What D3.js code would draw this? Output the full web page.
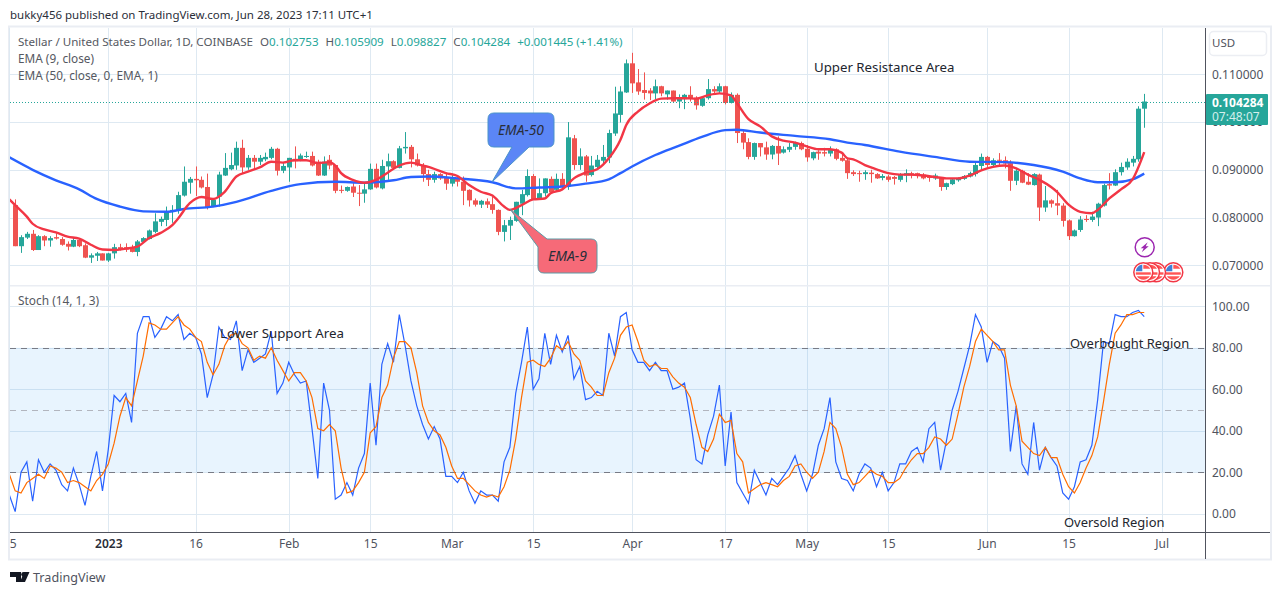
<!DOCTYPE html>
<html>
  <head>
    <meta charset="utf-8">
    <title>XLMUSD</title>
    <script src="https://cdn.jsdelivr.net/npm/d3@7/dist/d3.min.js" charset="utf-8"></script>
    <style>
      html, body {margin: 0; padding: 0; background: #fff; overflow: hidden;}
      text {font-family: "Noto Sans", sans-serif;}
    </style>
  </head>
  <body>
    <script>
    //candles, one per day from 2022-12-16
    const firstCandle='2022-12-16';
    const highs=[
      0.0838,0.0763,0.0770,0.0774,0.0763,0.0763,0.0761,0.0767,0.0759,0.0750,
      0.0759,0.0757,0.0746,0.0725,0.0728,0.0725,0.0726,0.0745,0.0745,0.0746,
      0.0743,0.0753,0.0759,0.0775,0.0809,0.0802,0.0823,0.0826,0.0854,0.0907,
      0.0885,0.0907,0.0886,0.0892,0.0838,0.0896,0.0935,0.0936,0.0959,0.0963,
      0.0931,0.0931,0.0931,0.0936,0.0948,0.0946,0.0914,0.0925,0.0949,0.0934,
      0.0938,0.0938,0.0921,0.0928,0.0931,0.0910,0.0867,0.0865,0.0872,0.0868,
      0.0874,0.0913,0.0913,0.0921,0.0934,0.0920,0.0950,0.0979,0.0952,0.0934,
      0.0914,0.0900,0.0896,0.0893,0.0893,0.0892,0.0886,0.0886,0.0859,0.0840,
      0.0837,0.0840,0.0844,0.0817,0.0795,0.0802,0.0833,0.0858,0.0901,0.0891,
      0.0882,0.0882,0.0886,0.0892,0.0893,0.1000,0.0973,0.0945,0.0931,0.0929,
      0.0931,0.0952,0.0984,0.1074,0.1075,0.1131,0.1145,0.1111,0.1104,0.1071,
      0.1089,0.1076,0.1066,0.1066,0.1058,0.1059,0.1075,0.1054,0.1054,0.1090,
      0.1075,0.1081,0.1076,0.1062,0.1060,0.0984,0.0966,0.0957,0.0956,0.0959,
      0.0952,0.0970,0.0949,0.0956,0.0959,0.0959,0.0952,0.0938,0.0941,0.0946,
      0.0949,0.0945,0.0935,0.0924,0.0899,0.0898,0.0899,0.0900,0.0893,0.0891,
      0.0889,0.0887,0.0893,0.0901,0.0896,0.0894,0.0893,0.0889,0.0892,0.0884,
      0.0873,0.0882,0.0884,0.0889,0.0896,0.0915,0.0934,0.0929,0.0924,0.0935,
      0.0928,0.0920,0.0904,0.0900,0.0893,0.0893,0.0892,0.0866,0.0838,0.0858,
      0.0830,0.0796,0.0775,0.0803,0.0805,0.0812,0.0831,0.0871,0.0893,0.0901,
      0.0915,0.0924,0.0929,0.1033,0.1059
    ];
    const opens=[
      0.0826,0.0740,0.0758,0.0766,0.0732,0.0761,0.0752,0.0759,0.0755,0.0745,
      0.0739,0.0753,0.0742,0.0716,0.0720,0.0725,0.0710,0.0725,0.0738,0.0738,
      0.0737,0.0728,0.0749,0.0755,0.0770,0.0791,0.0795,0.0812,0.0815,0.0846,
      0.0873,0.0881,0.0879,0.0864,0.0823,0.0844,0.0888,0.0901,0.0909,0.0946,
      0.0905,0.0925,0.0917,0.0922,0.0925,0.0944,0.0898,0.0905,0.0923,0.0920,
      0.0928,0.0929,0.0917,0.0888,0.0921,0.0910,0.0858,0.0856,0.0865,0.0852,
      0.0850,0.0859,0.0902,0.0861,0.0907,0.0918,0.0904,0.0945,0.0948,0.0922,
      0.0909,0.0891,0.0879,0.0891,0.0883,0.0871,0.0881,0.0875,0.0858,0.0836,
      0.0827,0.0834,0.0828,0.0816,0.0770,0.0783,0.0793,0.0829,0.0847,0.0887,
      0.0840,0.0851,0.0881,0.0858,0.0881,0.0865,0.0966,0.0910,0.0928,0.0889,
      0.0906,0.0919,0.0926,0.0976,0.1015,0.1062,0.1123,0.1083,0.1067,0.1066,
      0.1060,0.1075,0.1058,0.1066,0.1043,0.1048,0.1057,0.1051,0.1034,0.1050,
      0.1069,0.1064,0.1075,0.1040,0.1057,0.0977,0.0958,0.0927,0.0956,0.0947,
      0.0932,0.0950,0.0936,0.0942,0.0948,0.0956,0.0944,0.0924,0.0938,0.0937,
      0.0934,0.0943,0.0925,0.0920,0.0895,0.0893,0.0891,0.0894,0.0891,0.0883,
      0.0886,0.0885,0.0879,0.0888,0.0893,0.0893,0.0890,0.0885,0.0882,0.0882,
      0.0864,0.0870,0.0878,0.0881,0.0886,0.0891,0.0908,0.0927,0.0910,0.0921,
      0.0920,0.0914,0.0877,0.0898,0.0875,0.0868,0.0890,0.0821,0.0836,0.0830,
      0.0825,0.0794,0.0761,0.0774,0.0797,0.0795,0.0800,0.0825,0.0870,0.0867,
      0.0895,0.0905,0.0915,0.0922,0.1028
    ];
    const closes=[
      0.0740,0.0759,0.0766,0.0732,0.0761,0.0752,0.0757,0.0756,0.0743,0.0739,
      0.0753,0.0740,0.0716,0.0721,0.0725,0.0710,0.0725,0.0738,0.0732,0.0733,
      0.0728,0.0750,0.0757,0.0773,0.0792,0.0797,0.0813,0.0816,0.0847,0.0875,
      0.0881,0.0878,0.0863,0.0822,0.0837,0.0890,0.0904,0.0910,0.0946,0.0905,
      0.0925,0.0917,0.0925,0.0927,0.0944,0.0898,0.0908,0.0925,0.0918,0.0930,
      0.0929,0.0909,0.0888,0.0917,0.0909,0.0856,0.0857,0.0864,0.0852,0.0851,
      0.0859,0.0902,0.0863,0.0908,0.0918,0.0904,0.0945,0.0948,0.0922,0.0909,
      0.0891,0.0879,0.0891,0.0882,0.0871,0.0882,0.0875,0.0856,0.0836,0.0827,
      0.0835,0.0827,0.0816,0.0770,0.0784,0.0795,0.0833,0.0849,0.0887,0.0838,
      0.0851,0.0882,0.0853,0.0881,0.0865,0.0968,0.0910,0.0928,0.0888,0.0909,
      0.0921,0.0927,0.0977,0.1018,0.1064,0.1123,0.1081,0.1064,0.1061,0.1060,
      0.1075,0.1060,0.1066,0.1043,0.1050,0.1057,0.1049,0.1035,0.1050,0.1069,
      0.1064,0.1075,0.1040,0.1057,0.0977,0.0957,0.0927,0.0956,0.0947,0.0932,
      0.0950,0.0934,0.0943,0.0948,0.0956,0.0943,0.0926,0.0937,0.0934,0.0934,
      0.0942,0.0923,0.0919,0.0893,0.0891,0.0892,0.0895,0.0891,0.0882,0.0887,
      0.0879,0.0881,0.0889,0.0893,0.0888,0.0887,0.0882,0.0884,0.0888,0.0864,
      0.0872,0.0880,0.0883,0.0887,0.0893,0.0910,0.0927,0.0910,0.0920,0.0919,
      0.0913,0.0877,0.0898,0.0873,0.0869,0.0891,0.0821,0.0836,0.0829,0.0825,
      0.0793,0.0761,0.0773,0.0796,0.0795,0.0802,0.0829,0.0868,0.0867,0.0895,
      0.0906,0.0917,0.0923,0.1028,0.1043
    ];
    const lows=[
      0.0740,0.0726,0.0755,0.0730,0.0732,0.0740,0.0739,0.0754,0.0741,0.0731,
      0.0738,0.0738,0.0715,0.0705,0.0709,0.0710,0.0707,0.0714,0.0731,0.0728,
      0.0727,0.0719,0.0748,0.0754,0.0767,0.0782,0.0782,0.0789,0.0808,0.0844,
      0.0850,0.0845,0.0861,0.0817,0.0822,0.0823,0.0887,0.0899,0.0900,0.0892,
      0.0900,0.0903,0.0910,0.0918,0.0922,0.0888,0.0893,0.0875,0.0903,0.0918,
      0.0925,0.0907,0.0887,0.0887,0.0901,0.0851,0.0851,0.0854,0.0843,0.0824,
      0.0831,0.0858,0.0861,0.0859,0.0879,0.0903,0.0903,0.0934,0.0905,0.0907,
      0.0875,0.0866,0.0873,0.0879,0.0858,0.0865,0.0865,0.0826,0.0823,0.0823,
      0.0820,0.0820,0.0808,0.0763,0.0750,0.0753,0.0791,0.0805,0.0844,0.0837,
      0.0837,0.0844,0.0851,0.0854,0.0858,0.0858,0.0900,0.0900,0.0875,0.0886,
      0.0903,0.0910,0.0914,0.0971,0.0999,0.1061,0.1061,0.1057,0.1047,0.1046,
      0.1048,0.1054,0.1047,0.1041,0.1029,0.1027,0.1043,0.1026,0.1032,0.1047,
      0.1057,0.1061,0.1037,0.1039,0.0956,0.0943,0.0922,0.0921,0.0928,0.0921,
      0.0922,0.0910,0.0934,0.0937,0.0942,0.0941,0.0917,0.0920,0.0921,0.0928,
      0.0928,0.0920,0.0917,0.0881,0.0887,0.0875,0.0879,0.0873,0.0881,0.0878,
      0.0875,0.0869,0.0875,0.0874,0.0882,0.0882,0.0880,0.0875,0.0879,0.0856,
      0.0858,0.0868,0.0875,0.0879,0.0884,0.0886,0.0899,0.0906,0.0907,0.0910,
      0.0903,0.0856,0.0868,0.0872,0.0868,0.0867,0.0793,0.0812,0.0821,0.0805,
      0.0781,0.0753,0.0760,0.0770,0.0791,0.0791,0.0782,0.0823,0.0859,0.0866,
      0.0888,0.0900,0.0907,0.0917,0.0988
    ];

    //EMA readings, day = days after firstCandle
    const ema9Days=[-1,0,2,3,5,7,9,11,13,15,17,19,21,23,25,27,28,30,32,34,36,38,40,42,44,46,48,50,52,54,55,56,58,60,62,64,66,68,70,71,74,76,78,80,82,84,85,87,89,91,92,94,96,98,100,102,104,105,107,109,111,113,115,117,119,121,123,124,126,128,130,132,134,136,138,140,142,143,144,146,148,150,152,154,156,158,160,162,164,166,168,170,172,174,176,178,179,181,183,185,186,188,190,192,194];
    const ema9Values=[0.0838,0.0826,0.0802,0.0787,0.0775,0.0769,0.0760,0.0756,0.0743,0.0733,0.0732,0.0735,0.0739,0.0757,0.0768,0.0784,0.0798,0.0830,0.0843,0.0839,0.0854,0.0886,0.0896,0.0905,0.0917,0.0915,0.0920,0.0920,0.0914,0.0916,0.0909,0.0893,0.0879,0.0873,0.0879,0.0894,0.0909,0.0915,0.0909,0.0906,0.0893,0.0887,0.0868,0.0854,0.0846,0.0823,0.0816,0.0826,0.0838,0.0840,0.0851,0.0859,0.0882,0.0894,0.0901,0.0924,0.0963,0.0994,0.1022,0.1039,0.1049,0.1050,0.1050,0.1049,0.1056,0.1060,0.1056,0.1040,0.1006,0.0991,0.0970,0.0961,0.0957,0.0949,0.0943,0.0943,0.0936,0.0924,0.0922,0.0910,0.0901,0.0893,0.0890,0.0890,0.0888,0.0885,0.0882,0.0882,0.0888,0.0899,0.0906,0.0909,0.0903,0.0890,0.0879,0.0864,0.0854,0.0827,0.0812,0.0809,0.0816,0.0840,0.0859,0.0880,0.0937];
    const ema50Days=[-1,3,7,11,14,18,22,26,29,34,38,44,49,55,60,65,68,71,76,82,86,90,94,98,102,104,106,110,114,118,122,124,128,134,140,143,146,152,158,164,170,175,180,183,186,189,192,194];
    const ema50Values=[0.0926,0.0900,0.0878,0.0859,0.0839,0.0823,0.0813,0.0812,0.0818,0.0823,0.0833,0.0856,0.0870,0.0875,0.0873,0.0878,0.0885,0.0886,0.0882,0.0874,0.0861,0.0863,0.0865,0.0871,0.0880,0.0893,0.0907,0.0931,0.0950,0.0969,0.0983,0.0984,0.0978,0.0971,0.0964,0.0957,0.0952,0.0938,0.0927,0.0917,0.0916,0.0910,0.0896,0.0882,0.0874,0.0874,0.0880,0.0892];

    //stochastic, one per day from the day before firstCandle
    const stochK=[
      9,1,20,25,6,26,20,24,21,14,
      11,22,14,4,18,30,11,31,57,54,
      58,44,87,95,95,85,89,95,93,96,
      84,87,85,77,56,67,90,85,84,93,
      69,79,73,75,77,88,58,63,73,67,
      63,64,41,17,63,50,7,9,15,9,
      22,29,63,33,72,82,73,96,81,64,
      52,43,36,42,36,18,18,15,20,11,
      5,11,9,9,6,25,32,58,73,90,
      60,65,87,72,86,78,86,65,71,55,
      56,59,57,87,76,95,97,79,73,73,
      69,73,69,69,60,61,63,46,26,24,
      38,47,62,23,49,15,10,5,21,15,
      9,17,14,18,22,28,19,11,19,33,
      41,56,25,17,16,11,19,24,22,13,
      20,11,15,24,24,30,32,25,41,44,
      21,35,50,59,70,81,96,90,73,83,
      81,75,30,52,24,19,44,21,32,27,
      23,10,7,13,25,26,33,55,83,82,
      96,95,95,97,98,95
    ];
    const stochD=[
      19,11,10,15,17,19,17,23,22,20,
      15,16,15,13,11,16,19,24,34,47,
      56,52,64,76,92,91,89,89,92,95,
      91,89,85,83,73,67,72,81,86,87,
      82,80,74,76,75,80,74,69,64,68,
      68,64,56,41,40,43,40,22,10,11,
      15,20,39,42,56,62,75,83,83,80,
      68,52,44,40,38,32,23,17,17,14,
      11,9,8,9,8,13,21,36,56,73,
      74,72,71,75,81,79,83,77,74,64,
      61,57,57,68,75,86,90,91,83,74,
      71,72,70,70,66,63,61,56,43,32,
      30,36,48,44,45,29,25,10,12,14,
      15,14,13,16,18,23,24,20,17,20,
      30,44,41,32,19,14,15,18,21,19,
      18,15,15,17,22,26,29,29,32,37,
      36,33,36,48,61,71,83,89,86,83,
      79,79,62,52,35,32,29,28,32,27,
      27,19,13,10,15,22,28,37,54,72,
      87,91,96,96,97,97
    ];

    const lastPrice=0.104284;
    const priceTicks=[0.07, 0.08, 0.09, 0.10, 0.11];
    const stochTicks=[0, 20, 40, 60, 80, 100];
    const timeTicks=['2022-12-15','2023-01-01','2023-01-16','2023-02-01','2023-02-15','2023-03-01','2023-03-15','2023-04-01','2023-04-17','2023-05-01','2023-05-15','2023-06-01','2023-06-15','2023-07-01'];
    const timeLabels=['15','2023','16','Feb','15','Mar','15','Apr','17','May','15','Jun','15','Jul'];

    const font='"Noto Sans", sans-serif';
    const GREEN='#26a69a', RED='#ef5350', GRID='#deE9f2', AXIS='#50535e', TEXT='#555861';
    const L=10, R=1205, RIGHT=1270, TOP=28, SPLIT=285, BOTTOM=533, FOOT=559;

    const svg=d3.select('body').append('svg').attr('width', 1281).attr('height', 595);

    const x=d3.scaleUtc().domain([new Date('2023-01-01'), new Date('2023-07-01')]).range([108.3, 1161.7]);
    const y=d3.scaleLinear().domain([0.07, 0.11]).range([265.3, 74.3]);
    const ys=d3.scaleLinear().domain([0, 100]).range([513.7, 306.3]);

    const day0=new Date(firstCandle);
    const dayX=d=>x(d3.utcDay.offset(day0, d));

    let defs=svg.append('defs');
    defs.append('clipPath').attr('id', 'clipP').append('rect').attr('x', L).attr('y', TOP).attr('width', R-L).attr('height', SPLIT-TOP);
    defs.append('clipPath').attr('id', 'clipS').append('rect').attr('x', L).attr('y', SPLIT+1).attr('width', R-L).attr('height', BOTTOM-SPLIT-1);

    //frame
    svg.append('rect').attr('x', 9).attr('y', 26.5).attr('width', RIGHT-9+1).attr('height', FOOT-26).attr('fill', 'none').attr('stroke', '#eaedf3').attr('stroke-width', 2);

    //grid
    let dates=timeTicks.map(d=>new Date(d));
    svg.append('g').selectAll('line').data(dates).join('line')
      .attr('x1', d=>Math.round(x(d))+0.5).attr('x2', d=>Math.round(x(d))+0.5)
      .attr('y1', TOP).attr('y2', BOTTOM).attr('stroke', GRID);
    svg.append('g').selectAll('line').data(priceTicks).join('line')
      .attr('x1', L).attr('x2', R).attr('y1', d=>Math.round(y(d))+0.5).attr('y2', d=>Math.round(y(d))+0.5).attr('stroke', GRID);
    svg.append('g').selectAll('line').data(stochTicks).join('line')
      .attr('x1', L).attr('x2', R).attr('y1', d=>Math.round(ys(d))+0.5).attr('y2', d=>Math.round(ys(d))+0.5).attr('stroke', GRID);

    //stoch band
    svg.append('rect').attr('x', L).attr('width', R-L).attr('y', ys(80)).attr('height', ys(20)-ys(80))
      .attr('fill', '#2196f3').attr('fill-opacity', 0.1);
    [[80, '#787b86'], [50, '#b2b5be'], [20, '#787b86']].forEach(([v, c])=>{
      svg.append('line').attr('x1', L).attr('x2', R).attr('y1', Math.round(ys(v))+0.5).attr('y2', Math.round(ys(v))+0.5)
        .attr('stroke', c).attr('stroke-dasharray', '6 5');
    });

    //pane separator
    svg.append('rect').attr('x', L).attr('y', SPLIT).attr('width', RIGHT-L).attr('height', 1.5).attr('fill', '#eaedf3');

    //candles
    let gc=svg.append('g').attr('clip-path', 'url(#clipP)');
    opens.forEach((o, i)=>{
      let c=closes[i], col=c>=o?GREEN:RED, cx=Math.round(dayX(i));
      gc.append('line').attr('x1', cx+0.5).attr('x2', cx+0.5).attr('y1', y(highs[i])).attr('y2', y(lows[i])).attr('stroke', col);
      gc.append('rect').attr('x', cx-2).attr('width', 5)
        .attr('y', y(Math.max(o, c))).attr('height', Math.max(1, Math.abs(y(o)-y(c)))).attr('fill', col);
    });

    //last price line
    gc.append('line').attr('x1', L).attr('x2', R).attr('y1', Math.round(y(lastPrice))+0.5).attr('y2', Math.round(y(lastPrice))+0.5)
      .attr('stroke', GREEN).attr('stroke-dasharray', '1 2');

    //emas
    let emaLine=d3.line().x(d=>dayX(d[0])).y(d=>y(d[1])).curve(d3.curveMonotoneX);
    gc.append('path').attr('d', emaLine(ema50Days.map((d, i)=>[d, ema50Values[i]])))
      .attr('fill', 'none').attr('stroke', '#2962ff').attr('stroke-width', 2.4);
    gc.append('path').attr('d', emaLine(ema9Days.map((d, i)=>[d, ema9Values[i]])))
      .attr('fill', 'none').attr('stroke', '#f23645').attr('stroke-width', 2.4);

    //stoch lines
    let gs=svg.append('g').attr('clip-path', 'url(#clipS)');
    let stochLine=d3.line().x((d, i)=>dayX(i-1)).y(d=>ys(d));
    gs.append('path').attr('d', stochLine(stochK)).attr('fill', 'none').attr('stroke', '#2962ff').attr('stroke-width', 1.2);
    gs.append('path').attr('d', stochLine(stochD)).attr('fill', 'none').attr('stroke', '#ff6d00').attr('stroke-width', 1.2);

    //axes
    svg.append('line').attr('x1', L).attr('x2', RIGHT).attr('y1', BOTTOM-0.5).attr('y2', BOTTOM-0.5).attr('stroke', AXIS);
    svg.append('line').attr('x1', R+0.5).attr('x2', R+0.5).attr('y1', TOP).attr('y2', FOOT).attr('stroke', AXIS);

    function styleAxis(g, size){
      g.select('.domain').remove();
      g.selectAll('line').remove();
      g.selectAll('text').attr('font-size', size).attr('fill', AXIS).style('font-family', font);
    }
    svg.append('g').attr('transform', `translate(${R+1},0)`)
      .call(d3.axisRight(y).tickValues(priceTicks).tickFormat(d3.format('.6f')).tickSize(0).tickPadding(6))
      .call(styleAxis, 12);
    svg.append('g').attr('transform', `translate(${R+1},0)`)
      .call(d3.axisRight(ys).tickValues(stochTicks).tickFormat(d3.format('.2f')).tickSize(0).tickPadding(6))
      .call(styleAxis, 12);
    defs.append('clipPath').attr('id', 'clipT').append('rect').attr('x', L).attr('y', -10).attr('width', R-L).attr('height', 40);
    let timeAxis=svg.append('g').attr('transform', `translate(0,${BOTTOM+6})`)
      .call(d3.axisBottom(x).tickValues(dates).tickFormat((d, i)=>timeLabels[i]).tickSize(0).tickPadding(0))
      .call(styleAxis, 12)
      .attr('clip-path', 'url(#clipT)');
    timeAxis.selectAll('text').filter((d, i)=>timeLabels[i]=='2023').attr('fill', '#2a2e39').attr('font-weight', 600);

    //price tag and currency button
    svg.append('rect').attr('x', R+1).attr('y', 94).attr('width', 62).attr('height', 31).attr('rx', 1).attr('fill', GREEN);
    svg.append('text').attr('x', 1212).attr('y', 107).attr('font-size', 12).attr('font-weight', 700).attr('fill', '#fff').text(d3.format('.6f')(lastPrice));
    svg.append('text').attr('x', 1212).attr('y', 121).attr('font-size', 12).attr('fill', '#d4efec').text('07:48:07');
    svg.append('rect').attr('x', 1209.5).attr('y', 31.5).attr('width', 57).attr('height', 24).attr('rx', 4).attr('fill', '#fff').attr('stroke', '#eceef3').attr('stroke-width', 1.5);
    svg.append('text').attr('x', 1212).attr('y', 47).attr('font-size', 11.5).attr('fill', AXIS).text('USD');

    //header and legend
    svg.append('text').attr('x', 10).attr('y', 19).attr('font-size', 11.5).attr('fill', '#2a2e39').text('bukky456 published on TradingView.com, Jun 28, 2023 17:11 UTC+1');
    let leg=svg.append('text').attr('x', 18).attr('y', 46).attr('font-size', 11.6).attr('fill', TEXT);
    leg.append('tspan').text('Stellar / United States Dollar, 1D, COINBASE');
    [['O','0.102753'],['H','0.105909'],['L','0.098827'],['C','0.104284']].forEach(p=>{
      leg.append('tspan').attr('dx', 7).text(p[0]);
      leg.append('tspan').attr('fill', GREEN).text(p[1]);
    });
    leg.append('tspan').attr('fill', GREEN).attr('dx', 7).text('+0.001445 (+1.41%)');
    svg.append('text').attr('x', 18).attr('y', 63).attr('font-size', 11.8).attr('fill', TEXT).text('EMA (9, close)');
    svg.append('text').attr('x', 18).attr('y', 80).attr('font-size', 11.8).attr('fill', TEXT).text('EMA (50, close, 0, EMA, 1)');
    svg.append('text').attr('x', 18).attr('y', 305).attr('font-size', 11.9).attr('fill', TEXT).text('Stoch (14, 1, 3)');

    //text notes
    [['Upper Resistance Area', 814, 72, 13.25], ['Lower Support Area', 220, 338, 13.3], ['Overbought Region', 1070, 348, 12.9], ['Oversold Region', 1064, 527, 12.95]].forEach(t=>{
      svg.append('text').attr('x', t[1]).attr('y', t[2]).attr('font-size', t[3]).attr('fill', '#22252e').text(t[0]);
    });

    //callouts
    svg.append('path')
      .attr('d', 'M494,113 H548 Q554,113 554,119 V141 Q554,147 548,147 H529 L492,182 L512,147 H494 Q488,147 488,141 V119 Q488,113 494,113 Z')
      .attr('fill', '#5b86f6').attr('stroke', '#4a93c9');
    svg.append('text').attr('x', 521).attr('y', 134.5).attr('text-anchor', 'middle').attr('font-size', 13.8).attr('font-style', 'italic').attr('fill', '#2a2e39').text('EMA-50');
    svg.append('path')
      .attr('d', 'M547,239 H591 Q597,239 597,245 V267 Q597,273 591,273 H544 Q538,273 538,267 V247 L510,209 Z')
      .attr('fill', '#f66a78').attr('stroke', '#5b9aa5');
    svg.append('text').attr('x', 567.5).attr('y', 260.5).attr('text-anchor', 'middle').attr('font-size', 14).attr('font-style', 'italic').attr('fill', '#2a2e39').text('EMA-9');

    //events under the last candles
    let gv=svg.append('g').attr('transform', 'translate(1144.7,247.3)');
    gv.append('circle').attr('r', 9.5).attr('fill', '#fff').attr('stroke', '#9c27b0').attr('stroke-width', 1.5);
    gv.append('path').attr('d', 'M3,-5 L-4,1 H-1 L-3,5 L4,-1 H1 Z').attr('fill', '#9c27b0');

    [1173.3, 1156, 1150, 1143.3].forEach(cx=>{
      let f=svg.append('g').attr('transform', `translate(${cx},272.3)`);
      f.append('circle').attr('r', 9.5).attr('fill', '#fff').attr('stroke', '#f23645').attr('stroke-width', 1.5);
      f.append('rect').attr('x', -7.5).attr('y', 0).attr('width', 15).attr('height', 2.4).attr('fill', '#f55');
      f.append('path').attr('d', 'M-6.5,4 H6.5 A8,8 0 0 1 -6.5,4 Z').attr('fill', '#f55');
      f.append('path').attr('d', 'M-7.5,-1 A8,8 0 0 1 -1,-7.7 V-1 Z').attr('fill', '#3f7fd6');
      f.append('path').attr('d', 'M0,-7.5 A8,8 0 0 1 7,-3.5 H0 Z').attr('fill', '#f55');
    });

    //logo
    svg.append('path').attr('d', 'M10,572 H21 V582 H16 V577 H10 Z').attr('fill', '#131722');
    svg.append('circle').attr('cx', 23.6).attr('cy', 574.4).attr('r', 2.4).attr('fill', '#131722');
    svg.append('path').attr('d', 'M24,572 H29.5 L25,582 H20 Z').attr('fill', '#131722');
    svg.append('text').attr('x', 33).attr('y', 581.5).attr('font-size', 12.6).attr('fill', AXIS).text('TradingView');
    </script>
  </body>
</html>
